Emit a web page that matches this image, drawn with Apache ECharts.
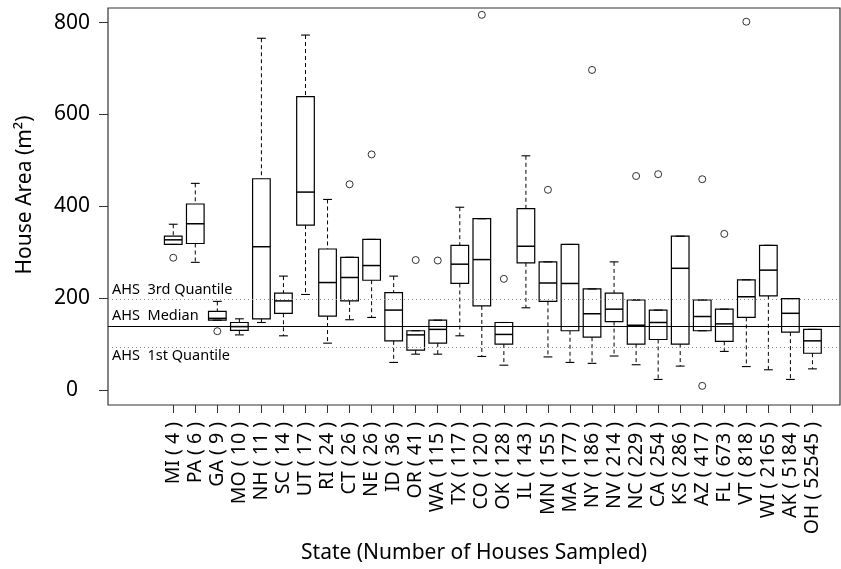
<!DOCTYPE html>
<html><head><meta charset="utf-8">
<script src="https://cdn.jsdelivr.net/npm/echarts@6/dist/echarts.min.js"></script>
<style>html,body{margin:0;padding:0;background:#fff}#c{width:841px;height:569px}</style>
</head><body><div id="c"></div>
<script>
const states = ['MI','PA','GA','MO','NH','SC','UT','RI','CT','NE','ID','OR','WA','TX','CO','OK','IL','MN','MA','NY','NV','NC','CA','KS','AZ','FL','VT','WI','AK','OH'];
const sampleCounts = [4,6,9,10,11,14,17,24,26,26,36,41,115,117,120,128,143,155,177,186,214,229,254,286,417,673,818,2165,5184,52545];
const whiskerLow  = [317,278,152,120,147,118,208,102,153,158, 60, 78, 78,118, 73, 54,179, 72, 60, 58, 74, 55, 23, 52,129, 84, 51, 44, 23, 46];
const quartile1   = [317,319,152,130,155,167,359,161,194,239,107, 87,102,232,183,100,277,193,129,115,149,100,110,100,129,106,158,205,126, 80];
const medians     = [327,362,156,138,312,194,431,234,245,271,174,120,132,274,284,121,313,233,232,166,176,141,147,265,160,144,203,261,167,107];
const quartile3   = [335,405,171,147,460,211,639,307,289,328,212,129,152,315,373,147,395,279,317,220,211,196,174,335,196,176,240,315,199,132];
const whiskerHigh = [361,450,193,155,766,248,773,415,289,328,248,129,152,398,373,147,510,279,317,220,279,196,174,335,196,176,240,315,199,132];
const outlierState = ['MI','GA','CT','NE','OR','WA','CO','OK','MN','NY','NC','CA','AZ','AZ','FL','VT'];
const outlierValue = [288,128,448,513,283,282,817,242,436,697,466,470,459,9,340,802];
const ahsQuantile1 = 94, ahsMedian = 139, ahsQuantile3 = 197;
const yTickValues = [0,200,400,600,800];

const positions = states.map((s, i) => i + 1);
const categoryLabels = states.map((s, i) => s + ' ( ' + sampleCounts[i] + ' )');
const boxData = positions.map((p, i) => [p, whiskerLow[i], quartile1[i], medians[i], quartile3[i], whiskerHigh[i]]);
const outlierData = outlierState.map((s, i) => [states.indexOf(s) + 1, outlierValue[i]]);

const FONT = '"Noto Sans", "Open Sans", sans-serif';

function renderBox(params, api) {
  const x = api.value(0);
  const lo = api.coord([x, api.value(1)]);
  const q1 = api.coord([x, api.value(2)]);
  const md = api.coord([x, api.value(3)]);
  const q3 = api.coord([x, api.value(4)]);
  const hi = api.coord([x, api.value(5)]);
  const band = api.size([1, 0])[0];
  const hw = band * 0.4;
  const cw = hw / 2;
  const cx = md[0];
  const dash = {stroke: '#000', lineWidth: 1, lineDash: [4, 3], fill: null};
  const solid = {stroke: '#000', lineWidth: 1.1, fill: null};
  const ch = [];
  if (hi[1] < q3[1] - 0.5) ch.push({type: 'line', shape: {x1: cx, y1: hi[1], x2: cx, y2: q3[1]}, style: dash});
  if (lo[1] > q1[1] + 0.5) ch.push({type: 'line', shape: {x1: cx, y1: q1[1], x2: cx, y2: lo[1]}, style: dash});
  ch.push({type: 'line', shape: {x1: cx - cw, y1: hi[1], x2: cx + cw, y2: hi[1]}, style: solid});
  ch.push({type: 'line', shape: {x1: cx - cw, y1: lo[1], x2: cx + cw, y2: lo[1]}, style: solid});
  ch.push({type: 'rect', shape: {x: cx - hw, y: q3[1], width: 2 * hw, height: q1[1] - q3[1]},
           style: {stroke: '#000', lineWidth: 1.2, fill: 'rgba(0,0,0,0)'}});
  ch.push({type: 'line', shape: {x1: cx - hw, y1: md[1], x2: cx + hw, y2: md[1]}, style: {stroke: '#000', lineWidth: 1.5}});
  return {type: 'group', children: ch};
}

const chart = echarts.init(document.getElementById('c'), null, {renderer: 'canvas'});
chart.setOption({
  animation: false,
  backgroundColor: '#fff',
  grid: {left: 108, right: 1, top: 8, bottom: 164, show: true, borderColor: '#333', borderWidth: 1.2, containLabel: false},
  xAxis: {
    type: 'value', min: -1.96, max: 31.25, position: 'bottom',
    axisLine: {show: false, onZero: false},
    splitLine: {show: false},
    axisTick: {show: true, customValues: positions, length: 8, lineStyle: {color: '#333', width: 1}},
    axisLabel: {show: true, customValues: positions, rotate: 90, margin: 17, fontSize: 19.5, color: '#000', fontFamily: FONT,
      formatter: v => categoryLabels[Math.round(v) - 1] || ''},
    name: 'State (Number of Houses Sampled)', nameLocation: 'middle', nameGap: 133,
    nameTextStyle: {fontSize: 21, color: '#000', fontFamily: FONT}
  },
  yAxis: {
    type: 'value', min: -32.7, max: 831.9, position: 'left',
    axisLine: {show: false, onZero: false},
    splitLine: {show: false},
    axisTick: {show: true, customValues: yTickValues, length: 9, lineStyle: {color: '#333', width: 1}},
    axisLabel: {show: true, customValues: yTickValues, margin: 14, color: '#000', fontFamily: FONT,
      formatter: v => '{c|' + v + '}',
      rich: {c: {width: 44, align: 'center', fontSize: 21, fontFamily: FONT, color: '#000'}}}
  },
  graphic: [{
    type: 'text', x: 25, y: 195, rotation: Math.PI / 2,
    style: {text: 'House Area (m²)', fontSize: 21, fontFamily: FONT, fill: '#000', align: 'center', verticalAlign: 'middle'}
  }],
  series: [
    {
      type: 'line', data: [], silent: true,
      markLine: {
        silent: true, symbol: 'none',
        data: [
          {yAxis: ahsQuantile3, lineStyle: {color: '#888', type: [1, 3], width: 1},
           label: {formatter: 'AHS  3rd Quantile', position: 'insideStartTop', distance: [4, 2]}},
          {yAxis: ahsMedian, lineStyle: {color: '#000', type: 'solid', width: 1.2},
           label: {formatter: 'AHS  Median', position: 'insideStartTop', distance: [4, 3]}},
          {yAxis: ahsQuantile1, lineStyle: {color: '#888', type: [1, 3], width: 1},
           label: {formatter: 'AHS  1st Quantile', position: 'insideStartBottom', distance: [4, 2]}}
        ],
        label: {fontSize: 14.5, color: '#000', fontFamily: FONT}
      }
    },
    {
      type: 'custom', renderItem: renderBox, data: boxData,
      encode: {x: 0, y: [1, 2, 3, 4, 5]}, silent: true, z: 3
    },
    {
      type: 'scatter', data: outlierData, symbol: 'circle', symbolSize: 7, silent: true,
      itemStyle: {color: 'rgba(0,0,0,0)', borderColor: '#000', borderWidth: 1}, z: 4
    }
  ]
});
</script></body></html>
